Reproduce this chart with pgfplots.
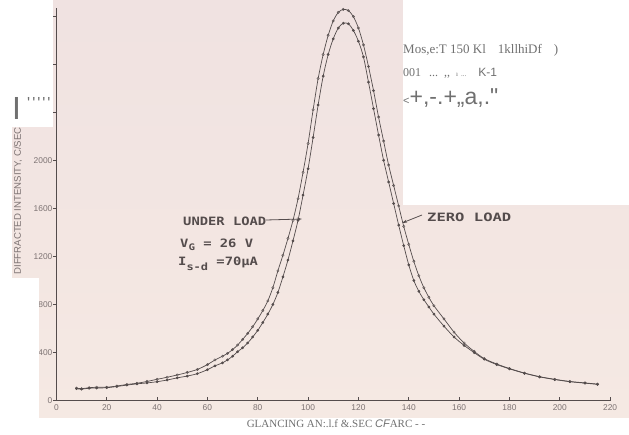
\documentclass[border=0pt]{standalone}
\usepackage{fontspec}
\setmainfont{Liberation Sans}
\newfontfamily\ocrserif{Liberation Serif}
\newfontfamily\leroy[FakeStretch=1.2]{DejaVu Sans Mono}
\newfontfamily\leroywide[FakeStretch=1.35]{DejaVu Sans Mono}
\usepackage{pgfplots}
\pgfplotsset{compat=1.18}
\usetikzlibrary{arrows.meta}
\definecolor{papertop}{RGB}{240,226,225}
\definecolor{paperbot}{RGB}{245,233,227}
\definecolor{ink}{RGB}{84,76,76}
\definecolor{ticktext}{RGB}{125,115,115}
\definecolor{ocr}{RGB}{112,112,112}
\begin{document}
\begin{tikzpicture}
\useasboundingbox (0pt,0pt) rectangle (629pt,-435pt);
\fill[white] (0pt,0pt) rectangle (629pt,-435pt);
% the scanned sheet
\shade[top color=papertop,bottom color=paperbot] (12pt,0pt) rectangle (629pt,-418pt);

\begin{axis}[at={(56.4pt,-400.7pt)},anchor=south west,
  scale only axis,width=553.7pt,height=392.5pt,
  xmin=0,xmax=220,ymin=0,ymax=3265,
  axis lines=left,axis line style={-,draw=ink,line width=0.8pt},
  xtick={0,20,...,220},ytick={0,400,...,2000},
  extra y ticks={2400,2800,3200},extra y tick labels={},
  xtick align=inside,ytick align=outside,
  major tick length=3.5pt,tick style={draw=ink,line width=0.6pt},
  /pgf/number format/assume math mode=true,
  /pgf/number format/1000 sep={},
  tick label style={font=\fontsize{8.4}{8.4}\selectfont,text=ticktext},
  yticklabel style={xshift=3pt},
  clip=false]
\addplot[ink,line width=0.7pt,smooth,tension=0.5,mark=o,mark size=1.2pt,mark options={line width=0.4pt}] coordinates {
 (8,105)(10,100)(13,108)(16,112)(20,112)(24,122)(28,135)(32,145)(36,160)(40,178)
 (44,195)(48,214)(52,235)(56,260)(60,300)(63,339)(66,370)(68,394)(70,425)(72,463)
 (74,510)(76,560)(78,615)(80,680)(82,750)(84,830)(86,940)(88,1080)(90,1210)(92,1350)
 (94,1500)(96,1680)(98,1900)(100,2140)(102,2420)(104,2680)(106,2880)(108,3040)(110,3160)
 (112,3230)(114,3255)(116,3245)(118,3195)(120,3100)(122,2960)(124,2780)(126,2580)
 (128,2360)(130,2160)(132,1960)(134,1790)(136,1620)(138,1450)(140,1300)(142,1160)
 (144,1040)(146,940)(148,860)(150,790)(154,680)(158,570)(162,480)(166,410)(170,350)
 (175,305)(180,268)(186,230)(192,200)(198,178)(204,160)(210,148)(215,138)};
\addplot[ink,line width=0.7pt,smooth,tension=0.5,mark=*,mark size=1.0pt,mark options={fill=ink}] coordinates {
 (8,100)(10,96)(13,104)(16,105)(20,108)(24,118)(28,130)(32,140)(36,148)(40,158)
 (44,172)(48,190)(52,205)(56,225)(60,258)(63,290)(66,315)(68,340)(70,370)(72,408)
 (74,440)(76,480)(78,530)(80,585)(82,650)(84,720)(86,800)(88,900)(90,1030)(92,1170)
 (94,1330)(96,1500)(98,1710)(100,1930)(102,2190)(104,2460)(106,2700)(108,2880)
 (110,3010)(112,3100)(114,3140)(116,3135)(118,3080)(120,2990)(122,2860)(124,2650)
 (126,2430)(128,2210)(130,2000)(132,1820)(134,1640)(136,1460)(138,1290)(140,1130)
 (142,1000)(144,910)(146,840)(148,780)(150,720)(154,620)(158,530)(162,460)(166,400)
 (170,345)(175,300)(180,265)(186,228)(192,198)(198,176)(204,158)(210,146)(215,136)};
\end{axis}

% white patches left by the scan
\fill[white] (0pt,0pt) rectangle (53pt,-127pt);
\fill[white] (0pt,-278pt) rectangle (39pt,-435pt);
\fill[white] (403pt,0pt) rectangle (629pt,-205pt);
\fill[white] (0pt,-418pt) rectangle (629pt,-435pt);

% axis title
\node[rotate=90,text=ticktext,font=\fontsize{9.6}{9.6}\selectfont] at (18pt,-201pt)
  {DIFFRACTED INTENSITY, C/SEC};

% lettering on the sheet
\node[anchor=west,text=ink,inner sep=0pt] at (183pt,-221pt)
  {\leroy\bfseries\fontsize{11.5}{11.5}\selectfont UNDER LOAD};
\draw[ink,line width=0.8pt,-{Stealth[length=5pt,width=3pt]}] (266pt,-220pt) -- (302pt,-219pt);
\node[anchor=west,text=ink,inner sep=0pt] at (180pt,-245pt)
  {\leroy\bfseries\fontsize{11.5}{11.5}\selectfont V\raisebox{-3.5pt}{\fontsize{9}{9}\selectfont G} = 26 V};
\node[anchor=west,text=ink,inner sep=0pt] at (178pt,-264pt)
  {\leroy\bfseries\fontsize{11.5}{11.5}\selectfont I\raisebox{-5pt}{\fontsize{10}{10}\selectfont s-d} =70μA};
\node[anchor=west,text=ink,inner sep=0pt] at (427pt,-217pt)
  {\leroywide\bfseries\fontsize{11.5}{11.5}\selectfont ZERO LOAD};
\draw[ink,line width=0.8pt,-{Stealth[length=5pt,width=3pt]}] (422pt,-215pt) -- (402pt,-223pt);

% scanner text left on the page
\node[anchor=west,text=ocr,inner sep=0pt] at (403pt,-50pt)
  {\ocrserif\fontsize{13}{13}\selectfont Mos,e:T 150 Kl\hspace{12pt}1kllhiDf\hspace{12pt})};
\node[anchor=west,text=ocr,inner sep=0pt] at (403pt,-73pt)
  {\ocrserif\fontsize{12}{12}\selectfont 001\hspace{8pt}...\hspace{6pt},,\hspace{6pt}\fontsize{7}{7}\selectfont ı\hspace{3pt}...\hspace{12pt}\normalfont\fontsize{12}{12}\selectfont K-1};
\node[anchor=west,text=ocr,inner sep=0pt] at (403pt,-98pt)
  {\fontsize{11}{11}\selectfont <\fontsize{23}{23}\selectfont +,-.+,,a,.\textquotedbl};
\node[text=ocr,inner sep=0pt] at (16.5pt,-108.5pt)
  {\fontsize{32}{32}\selectfont I};
\node[anchor=west,text=ocr,inner sep=0pt] at (27pt,-103pt)
  {\fontsize{16}{16}\selectfont\textquotesingle\hspace{2pt}\textquotesingle\hspace{2pt}\textquotesingle\hspace{2pt}\textquotesingle\hspace{2pt}\textquotesingle};
\node[text=ocr,inner sep=0pt] at (336pt,-424pt)
  {\ocrserif\fontsize{11}{11}\selectfont GLANCING AN:.l.f \&.SEC {\normalfont\itshape CF}ARC - -};
\end{tikzpicture}
\end{document}
